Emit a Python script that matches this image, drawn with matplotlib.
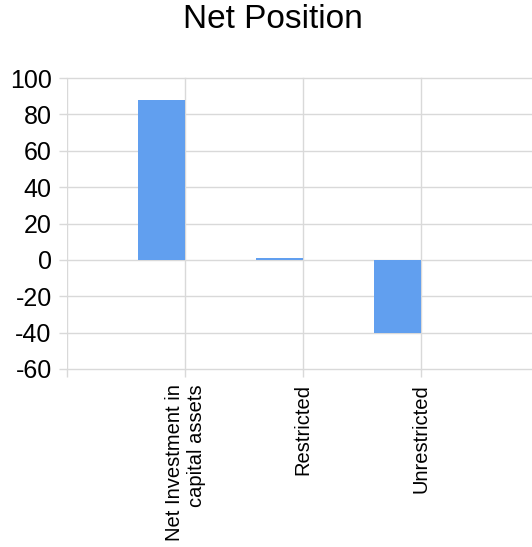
import matplotlib
matplotlib.use('Agg')
import matplotlib.pyplot as plt
import numpy as np

plt.rcParams['font.family'] = ['Liberation Sans', 'DejaVu Sans']

# Net position components (millions)
categories = ['Net Investment in\ncapital assets', 'Restricted', 'Unrestricted']
values = [88, 0.8, -40]
y_ticks = [-60, -40, -20, 0, 20, 40, 60, 80, 100]

bar_color = '#619FEF'
grid_color = '#d9d9d9'

W, H = 532, 547
fig = plt.figure(figsize=(W / 100, H / 100), dpi=100, facecolor='white')
ax = fig.add_axes([67 / W, (H - 369) / H, (539 - 67) / W, (369 - 78) / H])

x = np.arange(len(categories))
# bars sit to the left of each category line
ax.bar(x, values, width=-0.4, align='edge', color=bar_color, zorder=3)

ax.set_xlim(-1, 3)
ax.set_ylim(-60, 100)
ax.set_yticks(y_ticks)
ax.set_yticklabels([str(v) for v in y_ticks], fontsize=18)
ax.set_xticks(x)
ax.set_xticklabels(categories, rotation=90, fontsize=14.5, va='top', ha='center',
                   multialignment='right')
ax.set_xticks([-1], minor=True)

ax.grid(True, which='both', color=grid_color, linewidth=1, zorder=0)
for line in ax.get_xgridlines() + ax.get_ygridlines():
    line.set_clip_on(False)
ax.tick_params(axis='both', which='both', color=grid_color, length=6, width=1)
ax.tick_params(axis='y', pad=5)
ax.tick_params(axis='x', pad=5)
for spine in ax.spines.values():
    spine.set_visible(False)

fig.text(273 / W, 1 - 20 / H, 'Net Position', ha='center', va='center', fontsize=24)

fig.savefig('out.png', dpi=100, facecolor='white')
